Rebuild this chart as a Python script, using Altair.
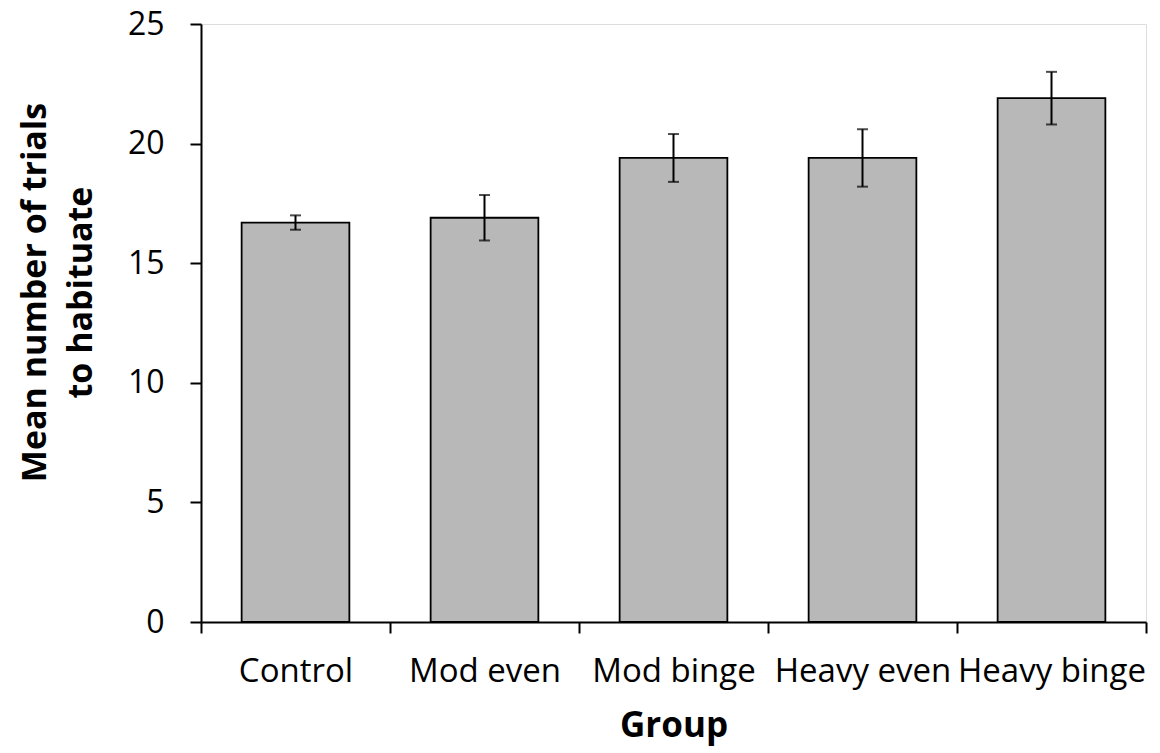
import altair as alt
import pandas as pd

groups = ["Control", "Mod even", "Mod binge", "Heavy even", "Heavy binge"]
means = [16.7, 16.9, 19.4, 19.4, 21.9]
errors = [0.3, 0.95, 1.0, 1.2, 1.1]
y_ticks = [0, 5, 10, 15, 20, 25]

df = pd.DataFrame({"group": groups, "mean": means, "err": errors})
df["lower"] = df["mean"] - df["err"]
df["upper"] = df["mean"] + df["err"]

FONT = "Open Sans"

x_enc = alt.X(
    "group:N",
    sort=groups,
    scale=alt.Scale(paddingInner=0, paddingOuter=0),
    axis=alt.Axis(
        title="Group",
        labelAngle=0,
        labelFont=FONT,
        labelFontSize=33,
        labelColor="black",
        labelBaseline="alphabetic",
        labelPadding=48,
        labelLimit=400,
        tickBand="extent",
        tickSize=11,
        tickWidth=2,
        tickColor="black",
        domainWidth=2,
        domainColor="black",
        titleFont=FONT,
        titleFontSize=35,
        titleFontWeight="bold",
        titleColor="black",
        titleBaseline="alphabetic",
        titleY=114,
    ),
)

y_axis = alt.Axis(
    title=["Mean  number of trials", "to habituate"],
    values=y_ticks,
    grid=False,
    labelFont=FONT,
    labelFontSize=32,
    labelColor="black",
    labelPadding=26,
    tickSize=11,
    tickWidth=2,
    tickColor="black",
    domainWidth=2,
    domainColor="black",
    titleFont=FONT,
    titleFontSize=34,
    titleFontWeight="bold",
    titleColor="black",
    titleAngle=-90,
    titleAlign="center",
    titleBaseline="alphabetic",
    titleLineHeight=46,
    titleLimit=600,
    titleX=-156,
    titleY=268,
)

base = alt.Chart(df)

bars = base.mark_bar(
    width=alt.RelativeBandSize(0.57),
    color="#b8b8b8",
    stroke="black",
    strokeWidth=1.8,
).encode(
    x=x_enc,
    y=alt.Y("mean:Q", scale=alt.Scale(domain=[0, 25], nice=False), axis=y_axis),
)

rule = base.mark_rule(color="black", strokeWidth=2).encode(
    x=alt.X("group:N", sort=groups),
    y="lower:Q",
    y2="upper:Q",
)

cap_lo = base.mark_tick(color="black", size=11, thickness=2).encode(
    x=alt.X("group:N", sort=groups),
    y="lower:Q",
)
cap_hi = base.mark_tick(color="black", size=11, thickness=2).encode(
    x=alt.X("group:N", sort=groups),
    y="upper:Q",
)

chart = (
    alt.layer(bars, rule, cap_lo, cap_hi)
    .properties(
        width=945,
        height=598,
        autosize=alt.AutoSizeParams(type="none"),
        padding={"left": 193, "top": 16, "right": 5, "bottom": 125},
    )
    .configure_view(stroke=None)
    .configure(background="white")
)

chart.save("out.html", embed_options={"renderer": "svg", "actions": False})
